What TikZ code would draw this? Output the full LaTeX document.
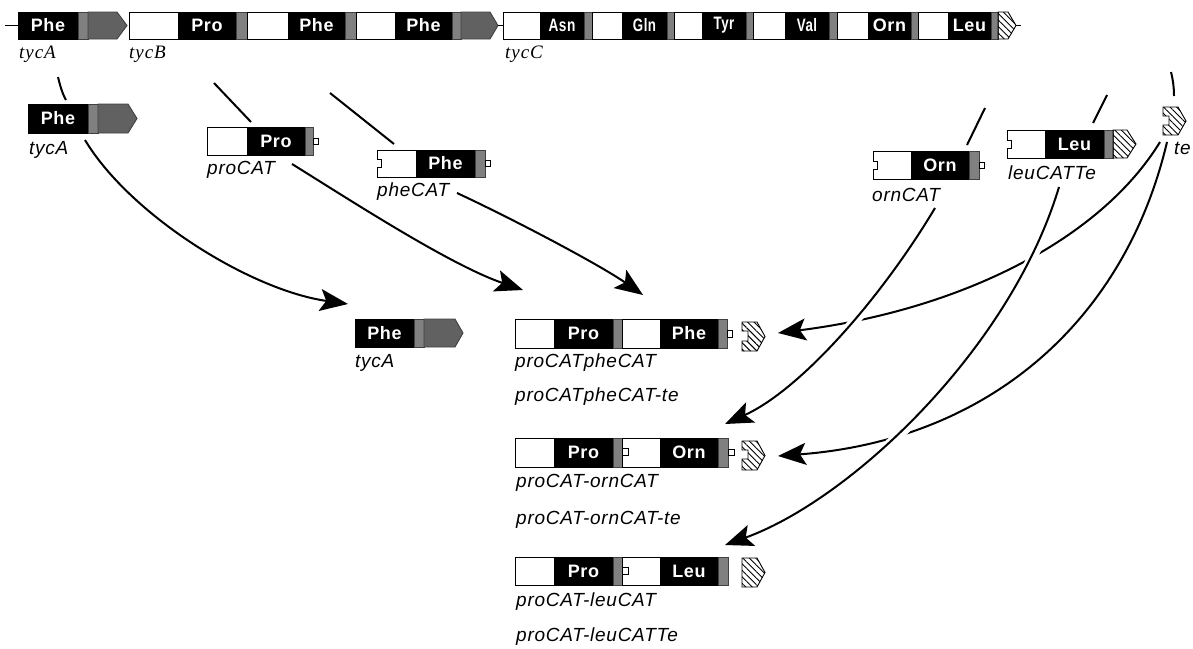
\documentclass[tikz,border=0pt]{standalone}
\usepackage{graphicx}
\usepackage{fontspec}
\setmainfont{Liberation Sans}
\newfontfamily\boxf[LetterSpace=4]{Liberation Sans}
\newfontfamily\labf[LetterSpace=4]{Liberation Sans}
\newfontfamily\serf[LetterSpace=5]{Liberation Serif}
\usetikzlibrary{arrows.meta,patterns.meta}
\newcommand\rbox[5]{\path[#5] (#1,#3) rectangle (#2,#4);}
\newcommand\pent[6]{\path[#6] (#1,#3) -- (#2,#3) -- (#5,{(#3+#4)/2}) -- (#2,#4) -- (#1,#4) -- cycle;}
% notched box: x1 x2 y1 y2 n1 n2 depth style
\newcommand\nbox[8]{\path[#8] (#1,#3) -- (#2,#3) -- (#2,#4) -- (#1,#4) -- (#1,#6) -- ({#1+#7},#6) -- ({#1+#7},#5) -- (#1,#5) -- cycle;}
% notched pentagon: x1 x2 y1 y2 tip n1 n2 depth style
\newcommand\npent[9]{\path[#9] (#1,#3) -- (#2,#3) -- (#5,{(#3+#4)/2}) -- (#2,#4) -- (#1,#4) -- (#1,#7) -- ({#1+#8},#7) -- ({#1+#8},#6) -- (#1,#6) -- cycle;}
\tikzset{
  wh/.style={draw=black,fill=white,line width=0.9pt},
  bk/.style={draw=black,fill=black,line width=0.9pt},
  gr/.style={draw=black!75,fill=black!50,line width=0.9pt},
  dk/.style={draw=black!75,fill=black!62,line width=0.9pt},
  ht/.style={draw=black,line width=0.9pt,pattern={Lines[angle=-45,distance=4.6pt,line width=0.9pt]}},
  tab/.style={draw=black,fill=white,line width=0.7pt},
  blab/.style={text=white,font=\boxf\fontsize{18}{20}\selectfont\bfseries,inner sep=0pt},
  ilab/.style={font=\labf\fontsize{19}{21}\selectfont\itshape,anchor=west,inner sep=0pt},
  slab/.style={font=\serf\fontsize{19}{21}\selectfont\itshape,anchor=west,inner sep=0pt},
  conn/.style={line width=2pt},
  arr/.style={line width=2pt,-{Stealth[length=28pt,width=22pt,inset=6pt]}},
  over/.style={arr,preaction={draw=white,line width=10pt,-,shorten >=30pt,shorten <=12pt}},
}
\begin{document}
\begin{tikzpicture}[x=1pt,y=-1pt]
\useasboundingbox (0,0) rectangle (1193,648);
% ---------------- top row ----------------
\draw[line width=0.9pt] (5,25.5) -- (18,25.5);
\rbox{18}{78}{12}{39}{bk}\rbox{78}{88}{12}{39}{gr}\pent{88}{117}{12}{39}{127}{dk}
\node[blab] (tA) at (48,25.5) {Phe};
\rbox{129}{178}{12}{39}{wh}\rbox{178}{236}{12}{39}{bk}\rbox{236}{247}{12}{39}{gr}
\rbox{247}{288}{12}{39}{wh}\rbox{288}{345}{12}{39}{bk}\rbox{345}{356}{12}{39}{gr}
\rbox{356}{395}{12}{39}{wh}\rbox{395}{452}{12}{39}{bk}\rbox{452}{461}{12}{39}{gr}
\pent{461}{490}{12}{39}{498}{dk}
\node[blab] (tB1) at (207,25.5) {Pro};
\node[blab] (tB2) at (316.5,25.5) {Phe};
\node[blab] (tB3) at (423.5,25.5) {Phe};
\draw[line width=0.9pt] (498,25.5) -- (503,25.5);
\rbox{503}{540}{12}{39}{wh}\rbox{540}{584}{12}{39}{bk}\rbox{584}{592}{12}{39}{gr}
\rbox{592}{622}{12}{39}{wh}\rbox{622}{667}{12}{39}{bk}\rbox{667}{674}{12}{39}{gr}
\rbox{674}{702}{12}{39}{wh}\rbox{702}{746}{12}{39}{bk}\rbox{746}{753}{12}{39}{gr}
\rbox{753}{785}{12}{39}{wh}\rbox{785}{829}{12}{39}{bk}\rbox{829}{837}{12}{39}{gr}
\rbox{837}{868}{12}{39}{wh}\rbox{868}{911}{12}{39}{bk}\rbox{911}{918}{12}{39}{gr}
\rbox{918}{948}{12}{39}{wh}\rbox{948}{991}{12}{39}{bk}\rbox{991}{998}{12}{39}{gr}
\pent{998}{1008}{12}{39}{1016}{ht}
\draw[line width=0.9pt] (1016,25.5) -- (1021,25.5);
\node[blab] (tC1) at (562,25.5) {\scalebox{0.76}[1]{Asn}};
\node[blab] (tC2) at (644.5,25.5) {\scalebox{0.74}[1]{Gln}};
\node[blab] (tC3) at (724,25.5) {\scalebox{0.74}[1]{Tyr}};
\node[blab] (tC4) at (807,25.5) {\scalebox{0.74}[1]{Val}};
\node[blab] (tC5) at (889.5,25.5) {Orn};
\node[blab] (tC6) at (969.5,25.5) {Leu};
\node[slab] (ltA) at (19,54) {tycA};
\node[slab] (ltB) at (129,54) {tycB};
\node[slab] (ltC) at (505,54) {tycC};
% ---------------- second row ----------------
\rbox{28}{88}{104}{133}{bk}\rbox{88}{98}{104}{133}{gr}\pent{98}{128}{104}{133}{137}{dk}
\node[blab] (mA) at (58,118.5) {Phe};
\node[ilab] (lmA) at (29,150) {tycA};
\rbox{207}{247}{127}{155}{wh}\rbox{247}{305}{127}{155}{bk}\rbox{305}{313}{127}{155}{gr}
\path[tab] (313,138) rectangle (318,144);
\node[blab] (mP) at (276,141) {Pro};
\node[ilab] (lmP) at (207,170) {proCAT};
\nbox{377}{416}{150}{177}{159}{167}{4}{wh}\rbox{416}{475}{150}{177}{bk}\rbox{475}{485}{150}{177}{gr}
\path[tab] (485,160.5) rectangle (490,166.5);
\node[blab] (mF) at (445.5,163.5) {Phe};
\node[ilab] (lmF) at (377,192) {pheCAT};
\nbox{873}{911}{151}{179}{161}{169}{4}{wh}\rbox{911}{969}{151}{179}{bk}\rbox{969}{979}{151}{179}{gr}
\path[tab] (979,162) rectangle (984,168);
\node[blab] (mO) at (940,165) {Orn};
\node[ilab] (lmO) at (872,195) {ornCAT};
\nbox{1007}{1045}{130}{158}{140}{148}{4}{wh}\rbox{1045}{1104}{130}{158}{bk}\rbox{1104}{1113}{130}{158}{gr}
\pent{1113}{1127}{130}{158}{1136}{ht}
\node[blab] (mL) at (1074.5,144) {Leu};
\node[ilab] (lmL) at (1008,173) {leuCATTe};
\npent{1163}{1178}{107}{135}{1186}{116}{125}{6}{ht}
\node[ilab] (lmT) at (1174,148) {te};
% ---------------- third row ----------------
\rbox{355}{414}{319}{347}{bk}\rbox{414}{424}{319}{347}{gr}\pent{424}{455}{319}{347}{463}{dk}
\node[blab] (bA) at (384.5,333) {Phe};
\node[ilab] (lbA) at (355,363) {tycA};
% proCATpheCAT
\rbox{515}{554}{319}{348}{wh}\rbox{554}{613}{319}{348}{bk}\rbox{613}{622}{319}{348}{gr}
\rbox{622}{660}{319}{348}{wh}\rbox{660}{718}{319}{348}{bk}\rbox{718}{727}{319}{348}{gr}
\path[tab] (727,330) rectangle (732,337);
\npent{742}{757}{322}{351}{765}{331}{341}{6}{ht}
\node[blab] (b1p) at (583.5,333.5) {Pro};
\node[blab] (b1f) at (689,333.5) {Phe};
\node[ilab] (lb1) at (515,363) {proCATpheCAT};
\node[ilab] (lb1t) at (515,397) {proCATpheCAT-te};
% proCAT-ornCAT
\rbox{515}{554}{438}{467}{wh}\rbox{554}{613}{438}{467}{bk}\rbox{613}{622}{438}{467}{gr}
\rbox{622}{660}{438}{467}{wh}\rbox{660}{718}{438}{467}{bk}\rbox{718}{728}{438}{467}{gr}
\path[tab] (622,448.5) rectangle (628,455);
\path[tab] (728,449) rectangle (734,455);
\npent{742}{757}{441}{470}{765}{450}{459}{6}{ht}
\node[blab] (b2p) at (583.5,452.5) {Pro};
\node[blab] (b2o) at (689,452.5) {Orn};
\node[ilab] (lb2) at (516,483) {proCAT-ornCAT};
\node[ilab] (lb2t) at (516,520) {proCAT-ornCAT-te};
% proCAT-leuCAT
\rbox{515}{554}{557}{585}{wh}\rbox{554}{613}{557}{585}{bk}\rbox{613}{622}{557}{585}{gr}
\rbox{622}{660}{557}{585}{wh}\rbox{660}{718}{557}{585}{bk}\rbox{718}{728}{557}{585}{gr}
\path[tab] (622,567.5) rectangle (628,574);
\pent{742}{757}{558}{587}{765}{ht}
\node[blab] (b3p) at (583.5,571) {Pro};
\node[blab] (b3l) at (689,571) {Leu};
\node[ilab] (lb3) at (516,602) {proCAT-leuCAT};
\node[ilab] (lb3t) at (516,637) {proCAT-leuCATTe};
% ---------------- connectors ----------------
\coordinate (s1a) at (58,77);   \coordinate (s1b) at (66,100);
\coordinate (s2a) at (214,83);  \coordinate (s2b) at (251,122);
\coordinate (s3a) at (330,93);  \coordinate (s3b) at (394,144);
\coordinate (s4a) at (985,108); \coordinate (s4b) at (967,145);
\coordinate (s5a) at (1107,95); \coordinate (s5b) at (1093,123);
\coordinate (s6a) at (1171,72); \coordinate (s6b) at (1174,96);
\draw[conn] (s1a) .. controls (60,85) and (62,93) .. (s1b);
\draw[conn] (s2a) -- (s2b);
\draw[conn] (s3a) -- (s3b);
\draw[conn] (s4a) -- (s4b);
\draw[conn] (s5a) -- (s5b);
\draw[conn] (s6a) .. controls (1173,80) and (1174,88) .. (s6b);
% arrows
\coordinate (a1s) at (85,140);   \coordinate (a1e) at (348,304);
\coordinate (a2s) at (292,164);  \coordinate (a2e) at (523,290);
\coordinate (a3s) at (457,193);  \coordinate (a3e) at (643,295);
\coordinate (a4s) at (1160,142); \coordinate (a4e) at (778,333);
\coordinate (a5s) at (935,208);  \coordinate (a5e) at (725,424);
\coordinate (a6s) at (1167,142); \coordinate (a6e) at (778,456);
\coordinate (a7s) at (1059,187); \coordinate (a7e) at (725,545);
\draw[arr] (a1s) .. controls (130,215) and (250,290) .. (a1e);
\draw[arr] (a2s) .. controls (350,200) and (450,265) .. (a2e);
\draw[arr] (a3s) .. controls (515,220) and (600,265) .. (a3e);
\draw[arr] (a4s) .. controls (1100,240) and (960,310) .. (a4e);
\draw[arr] (a6s) .. controls (1125,320) and (990,440) .. (a6e);
\draw[over] (a5s) .. controls (880,300) and (800,390) .. (a5e);
\draw[over] (a7s) .. controls (1010,350) and (850,500) .. (a7e);
\end{tikzpicture}
\end{document}
